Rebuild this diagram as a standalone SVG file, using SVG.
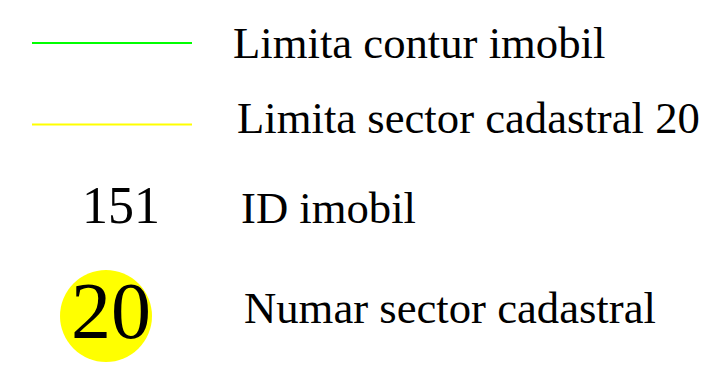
<svg xmlns="http://www.w3.org/2000/svg" width="720" height="382" viewBox="0 0 720 382">
<style>
text{font-family:"Liberation Serif","Times New Roman",serif;fill:#000}
.lbl{font-size:44.7px}
</style>
<rect width="720" height="382" fill="#fff"/>
<g id="contur">
<line x1="32" y1="43" x2="192" y2="43" stroke="#00ff00" stroke-width="2"/>
<text class="lbl" x="233" y="58">Limita contur imobil</text>
</g>
<g id="sector">
<line x1="32" y1="124.5" x2="192" y2="124.5" stroke="#ffff00" stroke-width="2"/>
<text class="lbl" x="237" y="133">Limita sector cadastral 20</text>
</g>
<g id="id-imobil">
<text x="121" y="223" font-size="52" text-anchor="middle">151</text>
<text class="lbl" x="241" y="223">ID imobil</text>
</g>
<g id="numar-sector">
<circle cx="106" cy="316" r="46" fill="#ffff00"/>
<text x="111" y="338" font-size="80" text-anchor="middle">20</text>
<text class="lbl" x="244" y="323">Numar sector cadastral</text>
</g>
</svg>
